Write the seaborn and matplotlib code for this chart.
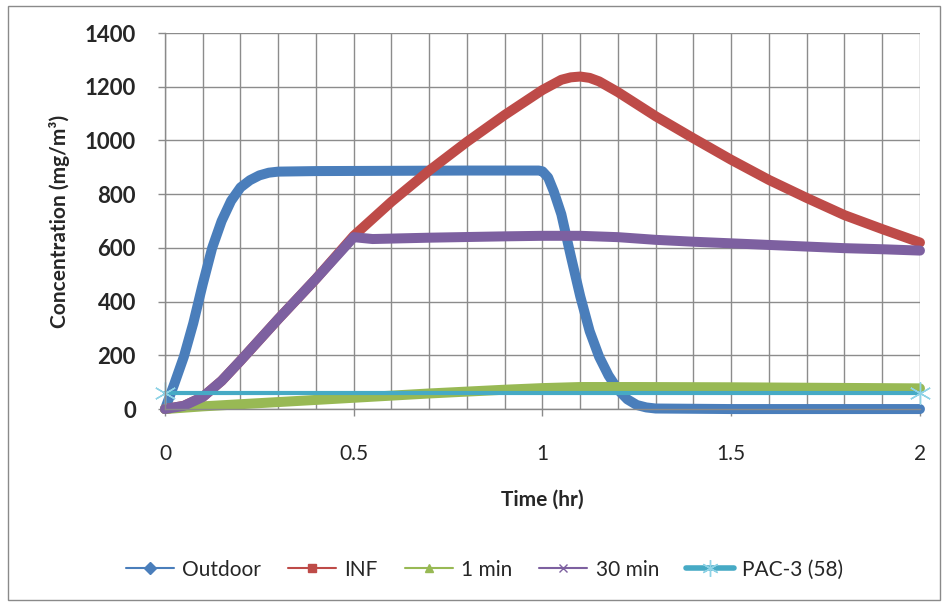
import numpy as np
import pandas as pd
import matplotlib
matplotlib.use("Agg")
import matplotlib.pyplot as plt
import seaborn as sns
from matplotlib.lines import Line2D
from matplotlib.patches import Rectangle
from matplotlib.ticker import MultipleLocator, FuncFormatter

# ── Data ─────────────────────────────────────────────────────────────────────
outdoor_t = [0, 0.025, 0.05, 0.075, 0.1, 0.125, 0.15, 0.175, 0.2, 0.225, 0.25, 0.275,
             0.3, 0.4, 0.6, 0.8, 0.99, 1.0, 1.015, 1.03, 1.05, 1.075, 1.1, 1.125,
             1.15, 1.175, 1.2, 1.225, 1.25, 1.275, 1.3, 1.5, 1.75, 2.0]
outdoor_c = [0, 95, 195, 320, 465, 600, 700, 775, 825, 852, 870, 880,
             884, 886, 887, 888, 888, 885, 862, 810, 725, 570, 420, 290,
             195, 125, 72, 36, 15, 6, 2, 0, 0, 0]

inf_t = [0, 0.05, 0.1, 0.15, 0.2, 0.3, 0.4, 0.5, 0.6, 0.7, 0.8, 0.9, 1.0, 1.05,
         1.075, 1.1, 1.125, 1.15, 1.2, 1.25, 1.3, 1.4, 1.5, 1.6, 1.7, 1.8, 1.9, 2.0]
inf_c = [0, 12, 45, 105, 180, 335, 485, 645, 772, 888, 995, 1095, 1188, 1226,
         1235, 1238, 1233, 1220, 1180, 1135, 1090, 1008, 928, 853, 786, 722, 670, 620]

min1_t = [0, 0.1, 0.2, 0.3, 0.4, 0.5, 0.6, 0.7, 0.8, 0.9, 1.0, 1.1, 1.25, 1.5, 1.75, 2.0]
min1_c = [0, 10, 18, 26, 34, 42, 50, 58, 65, 72, 78, 82, 82, 81, 79, 77]

min30_t = [0, 0.05, 0.1, 0.15, 0.2, 0.3, 0.4, 0.5, 0.55, 0.7, 0.9, 1.0, 1.1, 1.2,
           1.3, 1.4, 1.5, 1.6, 1.7, 1.8, 1.9, 2.0]
min30_c = [0, 12, 45, 105, 180, 335, 485, 640, 633, 638, 643, 645, 645, 640,
           630, 623, 617, 611, 605, 599, 595, 590]

pac3_t = [0, 2]
pac3_c = [58, 58]

series_names = ["Outdoor", "INF", "1 min", "30 min", "PAC-3 (58)"]
colors = ["#4a7ebb", "#be4b48", "#98b954", "#7d60a0", "#46aac5"]
legend_markers = ["D", "s", "^", "x", (6, 2, 0)]

frames = []
for name, t, c in zip(series_names,
                      [outdoor_t, inf_t, min1_t, min30_t, pac3_t],
                      [outdoor_c, inf_c, min1_c, min30_c, pac3_c]):
    frames.append(pd.DataFrame({"time": t, "conc": c, "series": name}))
df = pd.concat(frames, ignore_index=True)

# ── Style ─────────────────────────────────────────────────────────────────────
sns.set_theme(style="white")
plt.rcParams["font.family"] = ["Lato", "DejaVu Sans"]

fig, ax = plt.subplots(figsize=(9.45, 6.06), dpi=100)
fig.subplots_adjust(left=0.1746, right=0.9735, bottom=0.325, top=0.9455)

# chart-area border
fig.patches.append(Rectangle((0.0085, 0.0099), 0.986, 0.980, transform=fig.transFigure,
                             fill=False, edgecolor="#8a8a8a", lw=1.0))

# thick data series
for name, col in zip(series_names[:4], colors[:4]):
    sub = df[df["series"] == name]
    sns.lineplot(data=sub, x="time", y="conc", color=col, linewidth=7.2,
                 ax=ax, legend=False, sort=False, estimator=None,
                 solid_capstyle="round", solid_joinstyle="round", clip_on=False)

# PAC-3 threshold
sub = df[df["series"] == "PAC-3 (58)"]
sns.lineplot(data=sub, x="time", y="conc", color=colors[4], linewidth=3.0,
             ax=ax, legend=False, estimator=None, clip_on=False,
             marker=(6, 2, 0), markersize=16, markeredgecolor="#8fd3e6",
             markeredgewidth=1.0)

# ── Axes ──────────────────────────────────────────────────────────────────────
ax.set_xlim(0, 2)
ax.set_ylim(0, 1400)
ax.xaxis.set_major_locator(MultipleLocator(0.5))
ax.xaxis.set_minor_locator(MultipleLocator(0.1))
ax.yaxis.set_major_locator(MultipleLocator(200))
ax.xaxis.set_major_formatter(FuncFormatter(lambda v, _: f"{v:g}"))
ax.yaxis.set_major_formatter(FuncFormatter(lambda v, _: f"{v:g}"))
ax.grid(True, which="both", axis="x", color="#8c8c8c", lw=1.0)
ax.grid(True, which="major", axis="y", color="#8c8c8c", lw=1.0)
ax.set_axisbelow(True)

for side in ["top", "right"]:
    ax.spines[side].set_visible(False)
for side in ["left", "bottom"]:
    ax.spines[side].set_color("#8a8a8a")
    ax.spines[side].set_linewidth(1.0)

ax.tick_params(axis="x", which="major", direction="out", length=5, width=1,
               color="#8a8a8a", pad=20, labelsize=15, bottom=True)
ax.tick_params(axis="x", which="minor", length=0)
ax.tick_params(axis="y", direction="out", length=5, width=1, color="#8a8a8a",
               pad=16, labelsize=16, left=True)
for lab in ax.get_yticklabels():
    lab.set_fontweight("bold")

ax.set_xlabel("Time (hr)", fontsize=15, fontweight="bold")
ax.xaxis.set_label_coords(0.5, -0.215)
ax.set_ylabel("Concentration (mg/m³)", fontsize=15, fontweight="bold", va="center")
ax.yaxis.set_label_coords(-0.140, 0.5)

# ── Legend ────────────────────────────────────────────────────────────────────
handles = []
for name, col, mk in zip(series_names, colors, legend_markers):
    lw = 4 if name.startswith("PAC") else 1.5
    ms = 12 if name.startswith("PAC") else 6
    mec = "#8fd3e6" if name.startswith("PAC") else col
    handles.append(Line2D([0], [0], color=col, lw=lw, marker=mk, markersize=ms,
                          markerfacecolor=col, markeredgecolor=mec,
                          markeredgewidth=1.0, label=name))
fig.legend(handles=handles, loc="center", bbox_to_anchor=(0.513, 0.06), ncol=5,
           frameon=False, fontsize=15, handlelength=2.3, handletextpad=0.4,
           columnspacing=1.3)

fig.savefig("out.png", dpi=100)
